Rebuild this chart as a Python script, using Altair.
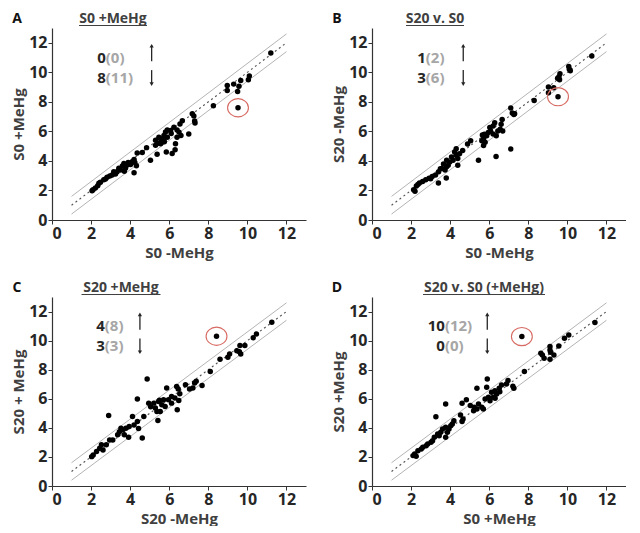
import altair as alt
import pandas as pd

FONT = "Open Sans"

# ---------------- data ----------------
# Panel A: S0 -MeHg (x) vs S0 +MeHg (y)
a_x = [11.2, 10.1, 10.05, 9.66, 9.57, 9.5, 9.3, 8.97, 8.97, 9.52, 8.26,
       7.18, 7.26, 7.3, 7.32, 7.0, 6.67, 6.55, 6.4, 6.24, 6.07, 5.9, 6.5, 6.6,
       6.4, 6.32, 6.3, 6.15, 5.85, 5.73, 5.64, 5.56, 5.73, 5.47, 5.81, 5.42,
       5.38, 5.04, 5.3, 4.84, 4.62, 4.36, 4.32, 4.2, 4.24, 4.1, 4.02, 4.2,
       3.85, 3.76, 3.68, 3.6, 3.5, 3.42, 3.33, 3.25, 3.16, 3.08, 2.96, 2.82,
       2.74, 2.65, 2.48, 2.4, 2.34, 2.22, 2.1, 2.05, 5.56, 5.9, 5.3, 3.9, 3.7,
       5.75, 6.1]
a_y = [11.3, 9.75, 9.5, 9.45, 9.06, 8.7, 9.2, 9.1, 8.77, 7.6, 7.73,
       7.2, 7.05, 6.7, 6.57, 5.83, 6.72, 6.5, 6.1, 6.28, 6.06, 6.1, 5.95, 5.72,
       5.6, 5.17, 4.75, 4.5, 4.6, 5.5, 5.28, 5.17, 5.72, 5.6, 5.96, 5.2,
       4.45, 4.05, 5.06, 4.9, 4.57, 4.54, 3.67, 4.1, 3.9, 3.94, 3.76, 3.2,
       3.72, 3.5, 3.83, 3.65, 3.38, 3.5, 3.27, 3.12, 3.27, 3.05, 2.98, 2.9,
       2.78, 2.72, 2.56, 2.49, 2.32, 2.16, 2.05, 1.98, 5.5, 5.6, 5.4, 3.9, 3.3,
       5.3, 5.85]

# Panel B: S0 -MeHg (x) vs S20 -MeHg (y)
b_x = [11.25, 10.07, 10.1, 10.15, 9.62, 9.57, 9.5, 9.6, 9.03, 9.03, 9.3, 9.52,
       8.3, 7.1, 7.18, 7.26, 7.3, 6.66, 6.61, 6.56, 6.69, 6.28, 6.2, 6.03, 6.07,
       5.95, 5.87, 5.71, 5.79, 5.62, 5.71, 6.2, 6.36, 6.44, 5.75, 5.65, 5.05,
       4.89, 4.31, 4.23, 4.31, 4.39, 4.39, 4.15, 3.98, 3.9, 3.82, 3.74, 3.58,
       3.41, 3.25, 3.08, 2.92, 2.75, 2.59, 2.43, 4.64, 4.48, 3.82, 4.07, 3.4,
       3.8, 5.45, 6.35, 7.1, 2.35, 2.27, 2.13, 2.2, 3.66, 3.5, 3.0]
b_y = [11.1, 10.4, 10.2, 10.1, 9.9, 9.7, 9.6, 9.5, 9.0, 8.62, 8.95, 8.35,
       8.09, 7.58, 7.25, 7.14, 7.2, 6.81, 6.48, 6.15, 6.03, 6.59, 6.37, 6.26, 6.03,
       5.92, 5.7, 5.52, 5.26, 5.37, 5.04, 5.82, 5.7, 6.03, 5.8, 5.75, 5.37,
       5.15, 4.82, 4.6, 4.38, 4.16, 3.71, 4.05, 3.93, 3.71, 3.6, 3.38, 3.49,
       3.27, 3.05, 2.94, 2.83, 2.72, 2.61, 2.5, 4.71, 4.49, 4.05, 4.26, 2.5,
       2.85, 4.05, 4.3, 4.8, 2.4, 2.3, 2.05, 1.95, 3.8, 3.47, 2.8]

# Panel C: S20 -MeHg (x) vs S20 +MeHg (y)
c_x = [11.25, 10.46, 10.3, 9.87, 9.62, 9.66, 9.59, 9.46, 9.09, 9.0, 8.6, 8.42,
       8.1, 4.87, 4.37, 2.9, 4.62, 5.42, 6.41, 5.87, 6.38, 6.46, 6.83, 7.04,
       7.3, 7.38, 7.68, 7.21, 6.54, 6.12, 5.96, 5.71, 5.46, 5.21, 4.95, 5.29,
       5.54, 5.37, 5.62, 5.79, 6.12, 6.29, 6.49, 4.7, 4.37, 4.12, 3.95, 4.2,
       3.78, 3.61, 3.45, 3.53, 3.36, 3.7, 3.92, 3.11, 2.95, 2.78, 2.53, 2.44,
       2.28, 2.11, 2.03, 2.61, 4.43, 5.5, 5.05]
c_y = [11.26, 10.46, 10.2, 9.66, 9.66, 9.08, 9.24, 9.31, 9.08, 8.85, 8.72, 10.3,
       7.88, 7.36, 5.98, 4.85, 3.3, 4.5, 5.24, 6.74, 6.85, 6.67, 6.97, 6.67,
       7.08, 7.2, 6.92, 6.74, 6.34, 6.16, 5.93, 5.93, 5.81, 5.7, 5.7, 5.36,
       5.12, 5.12, 5.59, 5.47, 5.7, 6.05, 5.88, 4.78, 4.43, 4.78, 4.09, 4.2,
       3.98, 3.86, 3.74, 3.98, 3.52, 3.52, 3.36, 3.17, 3.17, 2.83, 2.83, 2.6,
       2.37, 2.14, 2.02, 2.48, 3.95, 5.9, 5.45]

# Panel D: S0 +MeHg (x) vs S20 +MeHg (y)
d_x = [11.41, 10.07, 9.85, 9.56, 9.11, 9.11, 9.14, 9.31, 9.11, 8.81, 8.72, 8.64,
       7.67, 7.8, 7.21, 6.96, 6.88, 6.63, 6.51, 6.29, 6.38, 6.21, 6.12, 5.96,
       5.79, 6.04, 6.54, 5.9, 5.87, 5.37, 4.83, 4.61, 5.03, 5.23, 5.37, 5.45,
       5.62, 5.7, 5.2, 3.77, 3.27, 4.53, 4.66, 4.61, 4.19, 4.11, 4.03, 3.94,
       3.77, 3.86, 3.77, 3.61, 3.52, 3.44, 3.36, 3.19, 3.1, 3.02, 2.85, 2.77,
       2.6, 2.52, 2.35, 2.18, 2.1, 2.26, 7.26, 6.3]
d_y = [11.24, 10.39, 10.16, 9.63, 9.59, 9.36, 9.2, 9.01, 8.72, 8.78, 9.01, 9.13,
       10.28, 7.87, 6.86, 7.25, 7.02, 6.95, 6.72, 6.56, 6.33, 6.1, 6.45, 6.1,
       5.99, 5.87, 6.49, 7.36, 6.79, 6.72, 5.94, 5.69, 5.53, 5.42, 5.3, 5.64,
       5.42, 5.3, 5.18, 5.64, 4.77, 4.89, 4.61, 4.43, 4.49, 4.27, 4.15, 3.92,
       4.04, 3.69, 3.35, 3.92, 3.69, 3.46, 3.58, 3.35, 3.12, 3.01, 2.89, 2.77,
       2.66, 2.55, 2.43, 2.2, 2.09, 2.04, 6.72, 6.03]

panel_letters = ["A", "B", "C", "D"]
panel_titles = ["S0 +MeHg", "S20 v. S0", "S20 +MeHg", "S20 v. S0 (+MeHg)"]
x_titles = ["S0 -MeHg", "S0 -MeHg", "S20 -MeHg", "S0 +MeHg"]
y_titles = ["S0 +MeHg", "S20 -MeHg", "S20 + MeHg", "S20 +MeHg"]
circled_x = [9.52, 9.52, 8.42, 7.67]
circled_y = [7.6, 8.35, 10.3, 10.28]
up_counts = [("0", "(0)"), ("1", "(2)"), ("4", "(8)"), ("10", "(12)")]
down_counts = [("8", "(11)"), ("3", "(6)"), ("3", "(3)"), ("0", "(0)")]
count_split_x = [2.75, 2.75, 2.7, 3.73]
arrow_x = [5.1, 4.67, 4.5, 5.9]
count_y = [11.0, 9.6]
up_arrow_y = [10.75, 11.8]
down_arrow_y = [10.15, 9.2]
title_center_px = [61, 63, 69, 112]
title_width_px = [68, 58, 79, 122]

diag_x = [1, 12]
band = 0.6
tick_values = [0, 2, 4, 6, 8, 10, 12]

xs_data = [a_x, b_x, c_x, d_x]
ys_data = [a_y, b_y, c_y, d_y]

W, H_TOP, H_BOT = 254, 192, 189

ELLIPSE = "M-1.15,0A1.15,1,0,1,0,1.15,0A1.15,1,0,1,0,-1.15,0Z"


def panel(i, height):
    scale = alt.Scale(domain=[0, 13], nice=False, zero=False)
    xax = alt.Axis(values=tick_values, title=x_titles[i], grid=False, titlePadding=4, labelPadding=1)
    yax = alt.Axis(values=tick_values, title=y_titles[i], grid=False, titlePadding=2, labelPadding=1)
    X = lambda f="x": alt.X(f"{f}:Q", scale=scale, axis=xax)
    Y = lambda f="y": alt.Y(f"{f}:Q", scale=scale, axis=yax)

    rows = []
    for k, off in enumerate([-band, 0, band]):
        for xv in diag_x:
            rows.append({"x": xv, "y": xv + off, "line": str(k), "dotted": off == 0})
    lines = pd.DataFrame(rows)
    solid = alt.Chart(lines).transform_filter("!datum.dotted").mark_line(
        color="#b4b4b4", strokeWidth=1
    ).encode(x=X(), y=Y(), detail="line:N")
    dotted = alt.Chart(lines).transform_filter("datum.dotted").mark_line(
        color="#555555", strokeWidth=1.1, strokeDash=[2, 3]
    ).encode(x=X(), y=Y())

    pts = alt.Chart(pd.DataFrame({"x": xs_data[i], "y": ys_data[i]})).mark_point(
        filled=True, color="black", size=30, opacity=1
    ).encode(x=X(), y=Y())

    circ = alt.Chart(pd.DataFrame({"x": [circled_x[i]], "y": [circled_y[i]]})).mark_point(
        shape=ELLIPSE, filled=False, color="#d76a62", strokeWidth=1.1, size=330, opacity=1
    ).encode(x=X(), y=Y())

    cnt = pd.DataFrame({
        "x": [count_split_x[i]] * 2,
        "y": count_y,
        "dark": [up_counts[i][0], down_counts[i][0]],
        "grey": [up_counts[i][1], down_counts[i][1]],
    })
    dark_t = alt.Chart(cnt).mark_text(
        align="right", baseline="middle", font=FONT, fontWeight="bold", fontSize=15, color="#262626"
    ).encode(x=X(), y=Y(), text="dark:N")
    grey_t = alt.Chart(cnt).mark_text(
        align="left", baseline="middle", font=FONT, fontWeight="bold", fontSize=15, color="#a6a6a6"
    ).encode(x=X(), y=Y(), text="grey:N")

    arr = pd.DataFrame({
        "x": [arrow_x[i]] * 2,
        "y": [up_arrow_y[0], down_arrow_y[0]],
        "y2": [up_arrow_y[1], down_arrow_y[1]],
    })
    shafts = alt.Chart(arr).mark_rule(color="#262626", strokeWidth=1.3).encode(
        x=X(), y=Y(), y2="y2:Q"
    )
    heads_up = alt.Chart(pd.DataFrame({"x": [arrow_x[i]], "y": [up_arrow_y[1]]})).mark_point(
        shape="triangle-up", filled=True, color="#262626", size=18, opacity=1
    ).encode(x=X(), y=Y())
    heads_dn = alt.Chart(pd.DataFrame({"x": [arrow_x[i]], "y": [down_arrow_y[1]]})).mark_point(
        shape="triangle-down", filled=True, color="#262626", size=18, opacity=1
    ).encode(x=X(), y=Y())

    lab = pd.DataFrame({"t": [panel_titles[i]], "l": [panel_letters[i]]})
    title_t = alt.Chart(lab).mark_text(
        align="center", baseline="alphabetic", font=FONT, fontWeight="bold", fontSize=14, color="#404040"
    ).encode(x=alt.value(title_center_px[i]), y=alt.value(-5), text="t:N")
    underline = alt.Chart(lab).mark_rule(color="#404040", strokeWidth=1).encode(
        x=alt.value(title_center_px[i] - title_width_px[i] / 2),
        x2=alt.value(title_center_px[i] + title_width_px[i] / 2),
        y=alt.value(-2.5),
    )
    letter_t = alt.Chart(lab).mark_text(
        align="center", baseline="alphabetic", font=FONT, fontWeight="bold", fontSize=14, color="#111111"
    ).encode(x=alt.value(-35), y=alt.value(-5), text="l:N")

    return alt.layer(
        solid, dotted, pts, circ, dark_t, grey_t, shafts, heads_up, heads_dn,
        title_t, underline, letter_t
    ).properties(width=W, height=height)


top = alt.hconcat(panel(0, H_TOP), panel(1, H_TOP), spacing=25)
bot = alt.hconcat(panel(2, H_BOT), panel(3, H_BOT), spacing=25)
chart = alt.vconcat(top, bot, spacing=21).properties(
    padding={"left": 3, "top": 4, "right": 0, "bottom": 0}
).configure_view(
    stroke=None
).configure_axis(
    labelFont=FONT, labelFontWeight="bold", labelFontSize=16, labelColor="#262626",
    titleFont=FONT, titleFontWeight="bold", titleFontSize=15, titleColor="#404040",
    domainColor="#333333", domainWidth=1.2, tickColor="#333333", tickSize=4,
)

chart.save("out.html", embed_options={"renderer": "svg", "actions": False})
